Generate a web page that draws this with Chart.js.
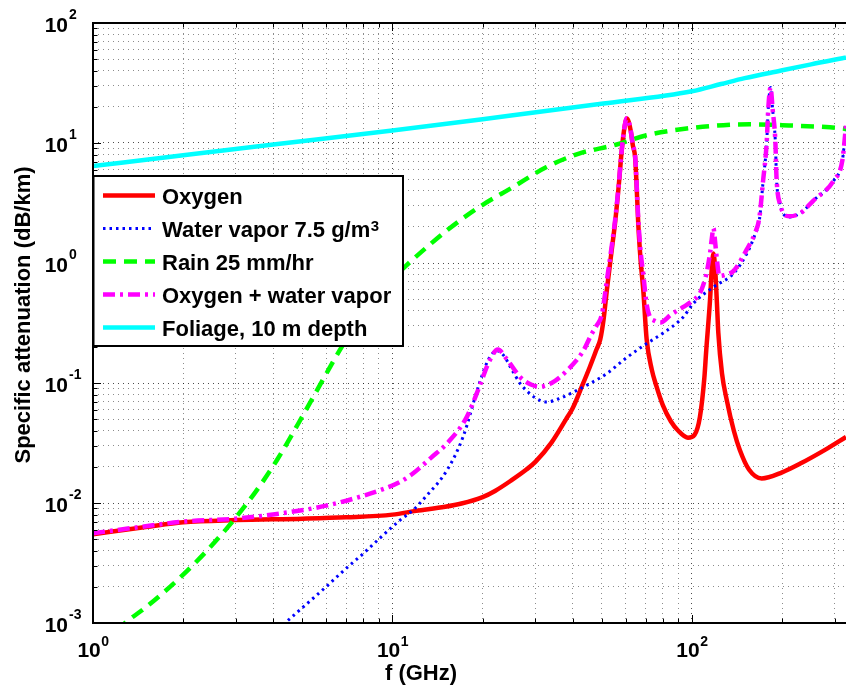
<!DOCTYPE html>
<html><head><meta charset="utf-8">
<script src="https://cdn.jsdelivr.net/npm/chart.js@4.4.0/dist/chart.umd.min.js"></script>
<style>html,body{margin:0;padding:0;background:#fff}#wrap{width:846px;height:691px}</style>
</head><body><div id="wrap"><canvas id="c" width="846" height="691"></canvas></div>
<script>
const FONT = '"Liberation Sans", Arial, Helvetica, sans-serif';

// ---- data (frequency in GHz, attenuation in dB/km) ----
const oxygenFreq = [1, 1.5, 2, 3, 5, 7, 10, 12, 15, 17, 20, 22, 25, 28, 30, 34, 38, 40, 43, 45.6, 48, 49.4, 50.7, 52, 54, 55.3, 57, 58, 59, 60, 60.6, 61.5, 62.5, 63.5, 64.6, 65.4, 66.2, 67.5, 68.8, 70.6, 73.5, 76, 80, 85, 90, 97, 102, 106.3, 110, 111.6, 114.9, 116.5, 118, 119.5, 121, 122.5, 126, 130.7, 138, 144.6, 155, 171, 200, 230, 280, 327];
const oxygenAtt  = [0.0055, 0.0063, 0.0069, 0.0072, 0.0074, 0.0076, 0.0080, 0.0086, 0.0093, 0.0099, 0.0112, 0.0126, 0.0155, 0.019, 0.022, 0.032, 0.05, 0.062, 0.095, 0.136, 0.19, 0.23, 0.34, 0.6, 1.3, 2.1, 4.5, 7.6, 11.5, 15, 16, 15, 12.5, 9.5, 7.6, 4.2, 2.1, 1.0, 0.59, 0.23, 0.128, 0.095, 0.065, 0.048, 0.04, 0.035, 0.037, 0.052, 0.11, 0.186, 0.49, 0.9, 1.2, 0.9, 0.5, 0.26, 0.12, 0.072, 0.04, 0.0275, 0.019, 0.016, 0.018, 0.0213, 0.028, 0.0355];

const waterFreq = [4, 4.38, 5, 6, 7, 8, 9, 10.6, 11.7, 13, 15.2, 17.2, 19.5, 21, 22.3, 23.5, 25, 26.7, 28.5, 30.3, 32.7, 36, 40.2, 46, 52, 60, 70.6, 80, 93.6, 101, 118, 137.8, 152.5, 162, 168, 172.6, 177.6, 180, 183, 186, 190, 191.5, 196.8, 211, 230, 254, 298, 318, 327];
const waterAtt  = [0.00082, 0.001, 0.00134, 0.002, 0.00285, 0.0038, 0.005, 0.0072, 0.0087, 0.0115, 0.0187, 0.0355, 0.099, 0.16, 0.186, 0.17, 0.13, 0.099, 0.083, 0.074, 0.0695, 0.074, 0.084, 0.1, 0.12, 0.16, 0.213, 0.26, 0.355, 0.46, 0.63, 0.82, 1.2, 1.7, 2.3, 4.6, 10, 20, 29, 19, 9.9, 5.2, 3.1, 2.42, 2.6, 3.3, 4.9, 7.2, 14];

const rainFreq = [1.2, 1.28, 1.5, 1.91, 2.4, 2.95, 3.5, 4.11, 5.05, 5.9, 6.77, 8, 9.5, 11, 13, 15.2, 19.5, 25.3, 32.7, 42.2, 54.6, 70.6, 96, 134, 156, 211, 289, 327];
const rainAtt  = [0.00085, 0.001, 0.00135, 0.00227, 0.004, 0.0072, 0.0125, 0.0227, 0.055, 0.11, 0.2, 0.38, 0.65, 0.93, 1.35, 1.87, 2.93, 4.3, 6.3, 8.2, 9.55, 11.6, 13.2, 14.2, 14.3, 14.0, 13.5, 13.1];

const comboFreq = [1, 1.5, 2, 3, 4.55, 6, 8, 9.1, 10.6, 11.7, 13.5, 15.2, 17.7, 19.5, 21, 22.5, 24, 26.7, 29, 31, 34, 38.4, 43.4, 46, 48, 50, 52, 54, 55.3, 57, 58, 59, 60, 60.6, 61.5, 62.5, 63.5, 64.6, 65.4, 66.2, 67.5, 68.8, 70.6, 72.2, 75, 78.5, 85, 93.6, 101, 106.3, 110, 111.6, 114.9, 116.5, 118, 119.5, 121, 123.5, 130, 137.8, 152.5, 162, 168, 172.6, 177.6, 180, 183, 186, 190, 191.5, 196.8, 211, 230, 254, 298, 318, 327];
const comboAtt  = [0.0056, 0.0064, 0.007, 0.0074, 0.0084, 0.0095, 0.0115, 0.0128, 0.015, 0.0176, 0.024, 0.0313, 0.052, 0.093, 0.15, 0.19, 0.16, 0.112, 0.097, 0.093, 0.1, 0.128, 0.186, 0.25, 0.3, 0.37, 0.72, 1.4, 2.2, 4.6, 7.7, 11.6, 15.1, 16.1, 15.1, 12.6, 9.6, 7.8, 4.4, 2.3, 1.2, 0.8, 0.45, 0.36, 0.33, 0.32, 0.37, 0.43, 0.49, 0.56, 0.7, 0.8, 1.2, 1.6, 1.95, 1.5, 1.1, 0.78, 0.8, 0.86, 1.3, 1.75, 2.4, 4.7, 10, 20, 29, 19, 10, 5.3, 3.1, 2.45, 2.6, 3.3, 4.9, 7.2, 14];

const foliageFreq = [1, 2, 4, 10, 20, 50.6, 100, 125, 150, 197, 250, 318, 327];
const foliageAtt  = [6.43, 7.9, 9.7, 12.7, 15.8, 21.3, 27, 31, 34.7, 40, 45.2, 50.9, 51.4];

const seriesLabels = ['Oxygen', 'Water vapor 7.5 g/m', 'Rain 25 mm/hr', 'Oxygen + water vapor', 'Foliage, 10 m depth'];
const seriesLabelSup = ['', '3', '', '', ''];
const xTickExponents = [0, 1, 2];
const yTickExponents = [-3, -2, -1, 0, 1, 2];
const xTitle = 'f (GHz)';
const yTitle = 'Specific attenuation (dB/km)';
const xMin = 1, xMax = 326.9, yMin = 0.001, yMax = 100;

// ---- styles ----
const styles = [
  { color: '#ff0000', width: 4.5, dash: [], order: 5 },
  { color: '#0000ff', width: 3, dash: [2.5, 4], order: 4 },
  { color: '#00ff00', width: 4.5, dash: [13, 8], order: 3 },
  { color: '#ff00ff', width: 4.5, dash: [12, 5, 3, 5], order: 2 },
  { color: '#00ffff', width: 4.5, dash: [], order: 1 }
];
const seriesData = [
  [oxygenFreq, oxygenAtt], [waterFreq, waterAtt], [rainFreq, rainAtt],
  [comboFreq, comboAtt], [foliageFreq, foliageAtt]
];

function pts(f, v) { return f.map((x, i) => ({ x: x, y: v[i] })); }
function isPow10(v) { const l = Math.log10(v); return Math.abs(l - Math.round(l)) < 1e-6; }
function isGridTick(v) {
  if (!v) return false;
  const m = v / Math.pow(10, Math.floor(Math.log10(v) + 1e-9));
  return Math.abs(m - Math.round(m)) < 1e-6;
}
function gridColor(c) {
  const v = c.tick && c.tick.value;
  if (!isGridTick(v)) return 'transparent';
  return isPow10(v) ? 'rgba(0,0,0,0.7)' : 'rgba(0,0,0,0.45)';
}

const axesDecor = {
  id: 'axesDecor',
  afterDraw(chart) {
    const ctx = chart.ctx, a = chart.chartArea;
    const xs = chart.scales.x, ys = chart.scales.y;
    ctx.save();
    ctx.setLineDash([]);
    ctx.strokeStyle = '#000';
    ctx.lineWidth = 1;
    ctx.beginPath();
    xs.ticks.forEach(t => {
      if (!isGridTick(t.value)) return;
      const px = Math.round(xs.getPixelForValue(t.value)) + 0.5;
      const L = isPow10(t.value) ? 8 : 4.5;
      ctx.moveTo(px, a.bottom); ctx.lineTo(px, a.bottom - L);
      ctx.moveTo(px, a.top); ctx.lineTo(px, a.top + L);
    });
    ys.ticks.forEach(t => {
      if (!isGridTick(t.value)) return;
      const py = Math.round(ys.getPixelForValue(t.value)) + 0.5;
      const L = isPow10(t.value) ? 8 : 4.5;
      ctx.moveTo(a.left, py); ctx.lineTo(a.left + L, py);
    });
    ctx.stroke();
    ctx.lineWidth = 2;
    ctx.beginPath();
    ctx.moveTo(a.right + 2, a.top); ctx.lineTo(a.left, a.top);
    ctx.lineTo(a.left, a.bottom); ctx.lineTo(a.right + 2, a.bottom);
    ctx.stroke();

    // tick labels
    ctx.fillStyle = '#000';
    ctx.textBaseline = 'alphabetic';
    yTickExponents.forEach(e => {
      const py = ys.getPixelForValue(Math.pow(10, e));
      ctx.font = 'bold 21px ' + FONT;
      ctx.textAlign = 'right';
      ctx.fillText('10', 68, py + 9);
      ctx.font = 'bold 14px ' + FONT;
      ctx.textAlign = 'left';
      ctx.fillText(String(e), 69, py - 4);
    });
    xTickExponents.forEach(e => {
      const px = xs.getPixelForValue(Math.pow(10, e));
      ctx.font = 'bold 21px ' + FONT;
      const w1 = ctx.measureText('10').width;
      ctx.font = 'bold 14px ' + FONT;
      const w2 = ctx.measureText(String(e)).width;
      const s = px - (w1 + w2) / 2;
      ctx.textAlign = 'left';
      ctx.font = 'bold 21px ' + FONT;
      ctx.fillText('10', s, 657);
      ctx.font = 'bold 14px ' + FONT;
      ctx.fillText(String(e), s + w1 + 0.5, 646);
    });

    // axis titles
    ctx.font = 'bold 22px ' + FONT;
    ctx.textAlign = 'center';
    ctx.fillText(xTitle, 421, 680);
    ctx.save();
    ctx.translate(30, 315);
    ctx.rotate(-Math.PI / 2);
    ctx.fillText(yTitle, 0, 0);
    ctx.restore();

    // legend
    const lx0 = 93.5, ly0 = 176, lx1 = 403, ly1 = 346;
    ctx.fillStyle = '#fff';
    ctx.fillRect(lx0, ly0, lx1 - lx0, ly1 - ly0);
    ctx.strokeStyle = '#000';
    ctx.lineWidth = 2;
    ctx.strokeRect(lx0, ly0, lx1 - lx0, ly1 - ly0);
    seriesLabels.forEach((lab, i) => {
      const st = styles[i];
      const y = 195.5 + 33 * i;
      ctx.save();
      ctx.strokeStyle = st.color;
      ctx.lineWidth = st.width;
      ctx.setLineDash(st.dash);
      ctx.beginPath();
      ctx.moveTo(103, y); ctx.lineTo(155, y);
      ctx.stroke();
      ctx.restore();
      ctx.fillStyle = '#000';
      ctx.textAlign = 'left';
      ctx.font = 'bold 22px ' + FONT;
      ctx.fillText(lab, 162, y + 8);
      if (seriesLabelSup[i]) {
        const w = ctx.measureText(lab).width;
        ctx.font = 'bold 15px ' + FONT;
        ctx.fillText(seriesLabelSup[i], 162 + w + 0.5, y + 2);
      }
    });
    ctx.restore();
  }
};

new Chart(document.getElementById('c'), {
  type: 'line',
  data: {
    datasets: seriesData.map((d, i) => ({
      label: seriesLabels[i] + seriesLabelSup[i],
      data: pts(d[0], d[1]),
      borderColor: styles[i].color,
      backgroundColor: styles[i].color,
      borderWidth: styles[i].width,
      borderDash: styles[i].dash,
      borderJoinStyle: 'round',
      cubicInterpolationMode: 'monotone',
      pointRadius: 0,
      fill: false,
      order: styles[i].order
    }))
  },
  options: {
    responsive: false,
    animation: false,
    devicePixelRatio: 1,
    layout: { padding: { top: 23, left: 0, right: 0, bottom: 0 } },
    plugins: { legend: { display: false }, tooltip: { enabled: false }, title: { display: false } },
    scales: {
      x: {
        type: 'logarithmic', min: xMin, max: xMax,
        ticks: { display: false },
        grid: { color: gridColor, lineWidth: 1, drawTicks: false },
        border: { display: false, dash: [1, 4] },
        afterFit: s => { s.height = 68; }
      },
      y: {
        type: 'logarithmic', min: yMin, max: yMax,
        ticks: { display: false },
        grid: { color: gridColor, lineWidth: 1, drawTicks: false },
        border: { display: false, dash: [1, 4] },
        afterFit: s => { s.width = 93; }
      }
    }
  },
  plugins: [axesDecor]
});
</script>
</body></html>
